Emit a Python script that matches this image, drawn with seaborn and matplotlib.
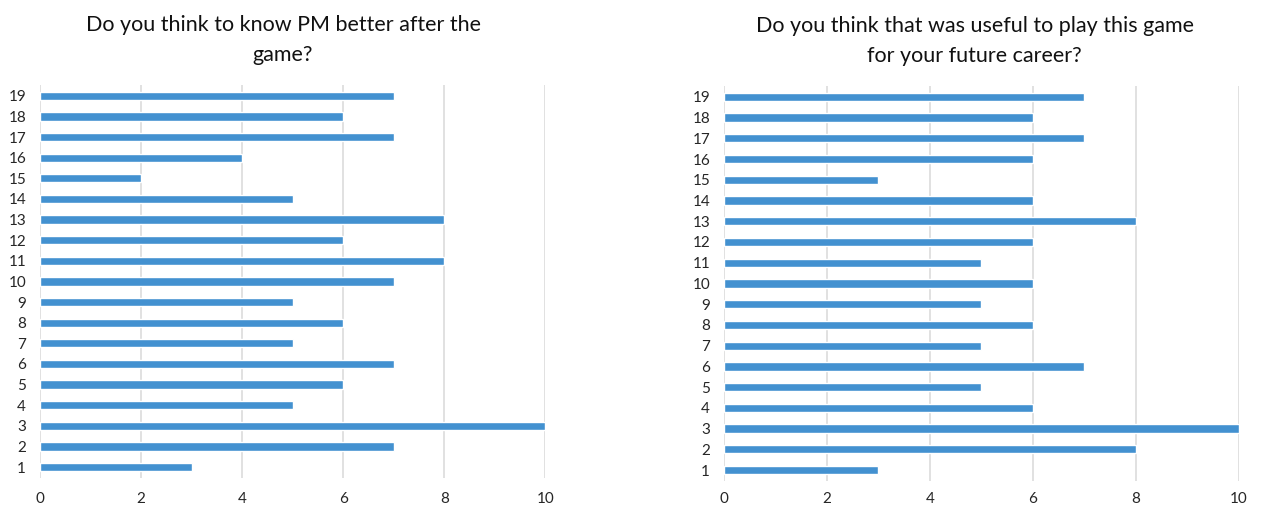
import matplotlib
matplotlib.use("Agg")
import matplotlib.pyplot as plt
import seaborn as sns
import pandas as pd

respondents = list(range(1, 20))
know_pm_better = [3, 7, 10, 5, 6, 7, 5, 6, 5, 7, 8, 6, 8, 5, 2, 4, 7, 6, 7]
useful_for_career = [3, 8, 10, 6, 5, 7, 5, 6, 5, 6, 5, 6, 8, 6, 3, 6, 7, 6, 7]
x_ticks = [0, 2, 4, 6, 8, 10]

titles = [
    "Do you think to know PM better after the\ngame?",
    "Do you think that was useful to play this game\nfor your future career?",
]

sns.set_theme(style="white")
plt.rcParams["font.family"] = ["Lato", "DejaVu Sans"]

BAR = "#4391d0"
GRID = "#dcdcdc"
TEXT = "#262626"

fig = plt.figure(figsize=(12.63, 5.08), dpi=100)
ax_left = fig.add_axes([0.0317, 0.059, 0.400, 0.774])
ax_right = fig.add_axes([0.5732, 0.053, 0.4078, 0.778])

for ax, values, title, title_x, xpad in [
    (ax_left, know_pm_better, titles[0], 0.481, 10),
    (ax_right, useful_for_career, titles[1], 0.487, 8),
]:
    df = pd.DataFrame({"respondent": respondents, "score": values})
    sns.barplot(data=df, x="score", y="respondent", orient="h",
                native_scale=True, color=BAR, saturation=1, width=0.4,
                ax=ax, zorder=3)
    ax.set_xlim(0, 10)
    ax.set_ylim(0.47, 19.53)
    ax.set_xticks(x_ticks)
    ax.set_yticks(respondents)
    ax.set_yticklabels([str(r) for r in respondents])
    ax.set_xlabel("")
    ax.set_ylabel("")
    ax.grid(axis="x", color=GRID, linewidth=1.2, zorder=0)
    ax.grid(axis="y", visible=False)
    for s in ax.spines.values():
        s.set_visible(False)
    ax.tick_params(axis="both", length=0, labelsize=11, colors=TEXT)
    ax.tick_params(axis="x", pad=xpad)
    ax.tick_params(axis="y", pad=10)
    ax.set_title(title, fontsize=15.5, color="#111111", pad=17,
                 linespacing=1.62, x=title_x)

fig.savefig("out.png", dpi=100, facecolor="white")
